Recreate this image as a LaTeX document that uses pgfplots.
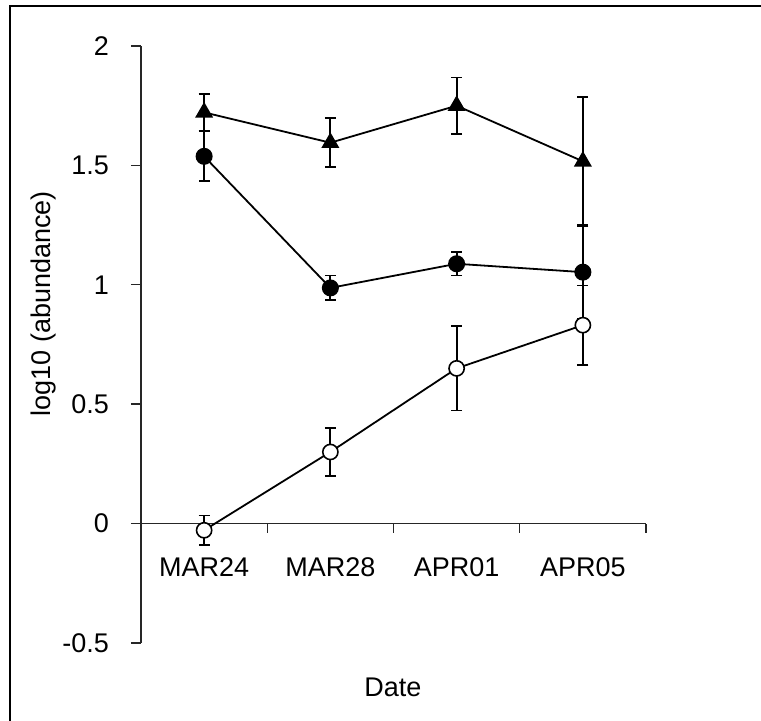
\documentclass[border=0pt]{standalone}
\usepackage{pgfplots}
\pgfplotsset{compat=1.18}
\usepackage{fontspec}
\setmainfont{Liberation Sans}
\newcommand{\chartfont}{\fontsize{13.5bp}{16bp}\selectfont}

\begin{document}
\begin{tikzpicture}[font=\chartfont]
% page area and frame
\useasboundingbox (-70.5bp,-39bp) rectangle (310bp,321.5bp);
\draw[line width=1bp] (-65.5bp,-39bp) |- (310bp,318.5bp);

\begin{axis}[
  at={(0,0)}, anchor=south west,
  scale only axis, width=252.5bp, height=298.5bp,
  xmin=-0.5, xmax=3.5, ymin=-0.5, ymax=2,
  axis x line=middle, axis y line=left,
  axis line style={-, line width=0.7bp, black!85},
  hide obscured x ticks=false, hide obscured y ticks=false,
  xtick={0,1,2,3}, xticklabels={MAR24,MAR28,APR01,APR05},
  minor xtick={-0.5,0.5,1.5,2.5,3.5},
  ytick={-0.5,0,0.5,1,1.5,2}, yticklabels={-0.5,0,0.5,1,1.5,2},
  major x tick style={draw=none},
  tick style={line width=0.7bp, black!85},
  tick align=outside,
  minor tick length=4.5bp, major tick length=5bp,
  tick label style={font=\chartfont},
  xticklabel style={yshift=-8.5bp},
  yticklabel style={xshift=-7.5bp},
  label style={font=\chartfont},
  xlabel={Date}, ylabel={log10 (abundance)},
  every axis x label/.style={at={(axis description cs:0.499,-0.075)}, anchor=center},
  every axis y label/.style={at={(axis description cs:-0.194,0.568)}, anchor=center, rotate=90},
  clip=false,
]
% filled triangles
\addplot[black, line width=0.9bp, mark=triangle*, mark size=4.3bp,
  error bars/.cd, y dir=both, y explicit,
  error bar style={line width=0.9bp},
  error mark options={rotate=90, mark size=2.75bp, line width=0.9bp}]
coordinates {
  (0,1.722) +- (0,0.077)
  (1,1.595) +- (0,0.102)
  (2,1.750) +- (0,0.118)
  (3,1.517) +- (0,0.270)
};
% filled circles
\addplot[black, line width=0.9bp, mark=*, mark size=3.8bp,
  error bars/.cd, y dir=both, y explicit,
  error bar style={line width=0.9bp},
  error mark options={rotate=90, mark size=2.75bp, line width=0.9bp}]
coordinates {
  (0,1.538) +- (0,0.105)
  (1,0.987) +- (0,0.052)
  (2,1.088) +- (0,0.049)
  (3,1.053) +- (0,0.197)
};
% open circles
\addplot[black, line width=0.9bp, mark=*, mark size=3.8bp,
  mark options={fill=white, line width=0.8bp},
  error bars/.cd, y dir=both, y explicit,
  error bar style={line width=0.9bp},
  error mark options={rotate=90, mark size=2.75bp, line width=0.9bp}]
coordinates {
  (0,-0.028) +- (0,0.062)
  (1,0.300) +- (0,0.102)
  (2,0.650) +- (0,0.176)
  (3,0.831) +- (0,0.166)
};
\end{axis}
\end{tikzpicture}
\end{document}
